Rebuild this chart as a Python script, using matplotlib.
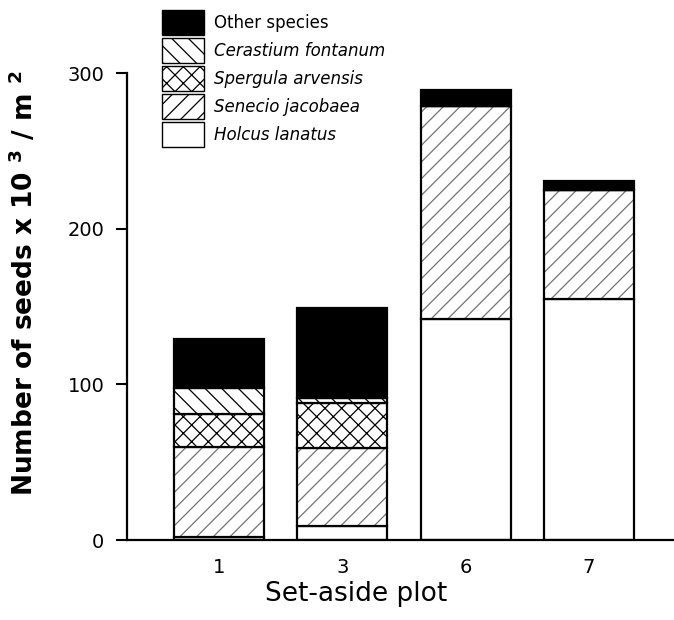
import matplotlib.pyplot as plt
import numpy as np
from matplotlib.patches import Patch

plots = ["1", "3", "6", "7"]
holcus = [2, 9, 142, 155]
senecio = [58, 50, 137, 70]
spergula = [21, 29, 0, 0]
cerastium = [17, 3, 0, 0]
other = [31, 58, 10, 6]

plt.rcParams['font.family'] = ['DejaVu Sans']
plt.rcParams['hatch.linewidth'] = 0.9

fig = plt.figure(figsize=(6.74, 6.2), dpi=100)
ax = fig.add_axes([0.188, 0.129, 0.81, 0.753])

x = np.arange(len(plots))
w = 0.73
layers = [
    (holcus, "white", "", "black"),
    (senecio, "white", "//", "0.45"),
    (spergula, "white", "xx", "black"),
    (cerastium, "white", "\\\\", "black"),
    (other, "black", "", "black"),
]
bottom = np.zeros(len(plots))
for vals, fc, hatch, hc in layers:
    vals = np.array(vals, dtype=float)
    ax.bar(x, vals, w, bottom=bottom, color=fc, hatch=hatch, edgecolor=hc, linewidth=0)
    ax.bar(x, vals, w, bottom=bottom, fill=False, edgecolor="black", linewidth=1.6)
    bottom += vals

ax.set_ylim(0, 300)
ax.set_xlim(-0.75, 3.68)
ax.set_yticks([0, 100, 200, 300])
ax.set_xticks(x)
ax.set_xticklabels(plots)
ax.tick_params(axis='y', direction='out', length=8, width=1.5, labelsize=14, pad=8)
ax.tick_params(axis='x', length=0, labelsize=14, pad=13)
for s in ["top", "right"]:
    ax.spines[s].set_visible(False)
ax.spines["left"].set_linewidth(1.6)
ax.spines["bottom"].set_linewidth(1.6)

ax.set_ylabel("Number of seeds x 10 $^{\\mathbf{3}}$ / m $^{\\mathbf{2}}$",
              fontsize=19, fontweight="bold")
ax.yaxis.set_label_coords(-0.16, 0.55)
ax.set_xlabel("Set-aside plot", fontsize=19)
ax.xaxis.set_label_coords(0.42, -0.088)

handles = [
    Patch(facecolor="black", edgecolor="black", label="Other species"),
    Patch(facecolor="white", edgecolor="black", hatch="\\\\", label="Cerastium fontanum"),
    Patch(facecolor="white", edgecolor="black", hatch="xx", label="Spergula arvensis"),
    Patch(facecolor="white", edgecolor="black", hatch="//", label="Senecio jacobaea"),
    Patch(facecolor="white", edgecolor="black", label="Holcus lanatus"),
]
leg = fig.legend(handles=handles, loc="upper left", bbox_to_anchor=(0.228, 0.997),
                 frameon=False, fontsize=12, handlelength=2.5, handleheight=1.9,
                 labelspacing=0.2, handletextpad=0.6, borderpad=0)
for i, t in enumerate(leg.get_texts()):
    if i > 0:
        t.set_fontstyle("italic")

fig.savefig("out.png", dpi=100)
